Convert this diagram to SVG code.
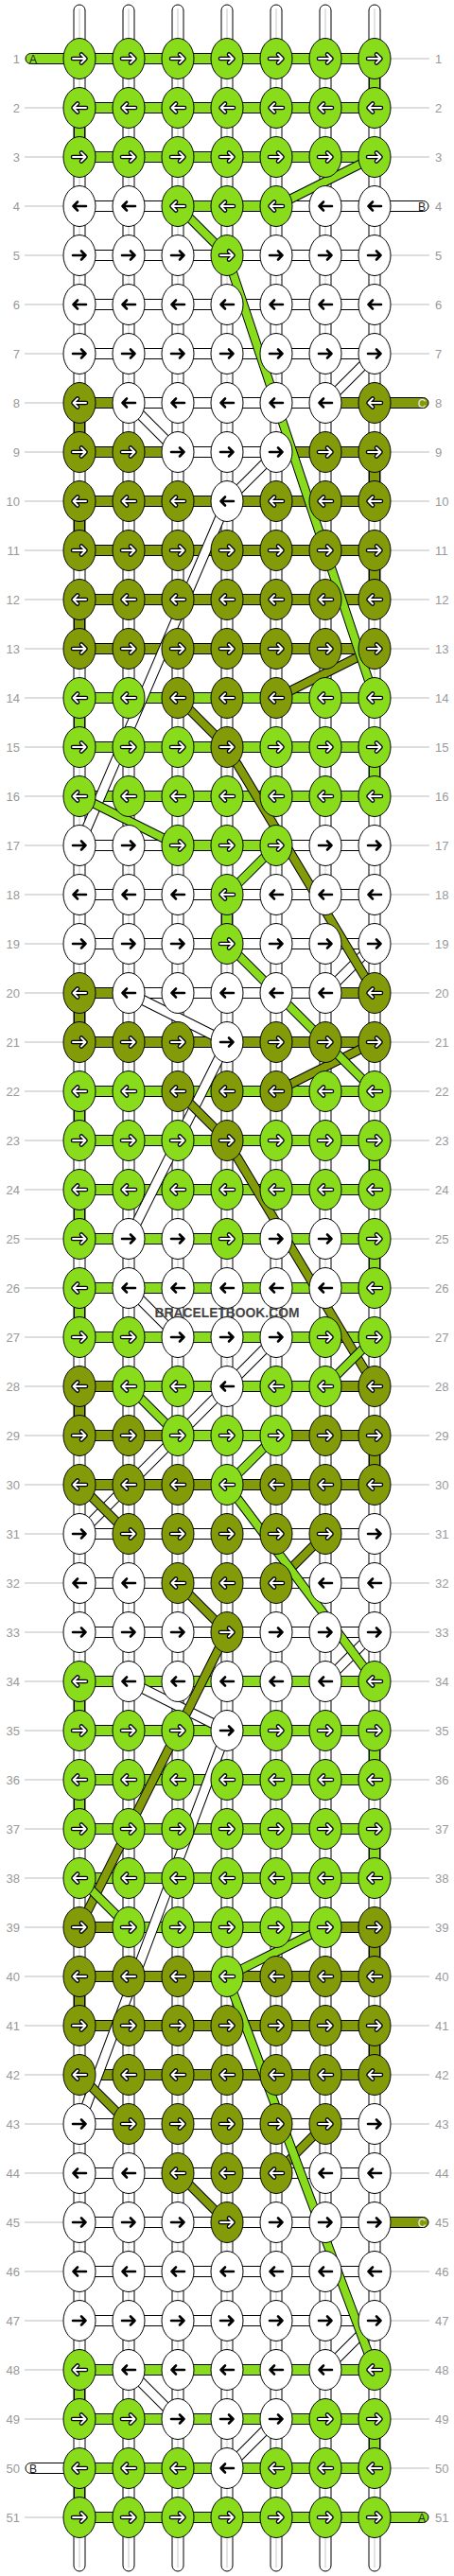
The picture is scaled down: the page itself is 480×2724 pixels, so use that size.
<svg xmlns="http://www.w3.org/2000/svg" xmlns:xlink="http://www.w3.org/1999/xlink" width="480" height="2724" viewBox="0 0 480 2724">
<style>
.G{fill:#88dc1c;stroke:#000;stroke-width:1}
.O{fill:#839a09;stroke:#000;stroke-width:1}
.W{fill:#fff;stroke:#000;stroke-width:1}
.ao{fill:none;stroke:#000;stroke-width:4.6;stroke-linecap:round;stroke-linejoin:round}
.aw{fill:none;stroke:#fff;stroke-width:2;stroke-linecap:round;stroke-linejoin:round}
.ab{fill:none;stroke:#000;stroke-width:2.6;stroke-linecap:round;stroke-linejoin:round}
.bo{fill:none;stroke:#000;stroke-width:10;stroke-linejoin:round}
.bow{fill:none;stroke:#000;stroke-width:11;stroke-linejoin:round}
.bg{fill:none;stroke:#88dc1c;stroke-width:8;stroke-linejoin:round}
.bl{fill:none;stroke:#839a09;stroke-width:8;stroke-linejoin:round}
.bw{fill:none;stroke:#fff;stroke-width:9;stroke-linejoin:round}
.num{font-family:"Liberation Sans",Arial,sans-serif;font-size:13px;fill:#999}
.nl{text-anchor:end}
.lab{font-family:"Liberation Sans",Arial,sans-serif;font-size:12px;text-anchor:middle}
.gl{fill:none;stroke:#bbb;stroke-width:1}
.cl{fill:none;stroke:#c8c8c8;stroke-width:1}
</style>
<defs>
<path id="ar" d="M-7 0H6.5M2-4.5L6.5 0L2 4.5"/>
<path id="al" d="M7 0H-6.5M-2-4.5L-6.5 0L-2 4.5"/>
<g id="GR"><ellipse class="G" rx="17" ry="21.5"/><use href="#ar" class="ao"/><use href="#ar" class="aw"/></g>
<g id="GL"><ellipse class="G" rx="17" ry="21.5"/><use href="#al" class="ao"/><use href="#al" class="aw"/></g>
<g id="OR"><ellipse class="O" rx="17" ry="21.5"/><use href="#ar" class="ao"/><use href="#ar" class="aw"/></g>
<g id="OL"><ellipse class="O" rx="17" ry="21.5"/><use href="#al" class="ao"/><use href="#al" class="aw"/></g>
<g id="WR"><ellipse class="W" rx="17" ry="21.5"/><use href="#ar" class="ab"/></g>
<g id="WL"><ellipse class="W" rx="17" ry="21.5"/><use href="#al" class="ab"/></g>
</defs>
<rect width="480" height="2724" fill="#fff"/>
<g id="labels">
<path class="gl" d="M26 114H67M26 166H67M26 218H67M26 270H67M26 322H67M26 374H67M26 426H67M26 478H67M26 530H67M26 582H67M26 634H67M26 686H67M26 738H67M26 790H67M26 842H67M26 894H67M26 946H67M26 998H67M26 1050H67M26 1102H67M26 1154H67M26 1206H67M26 1258H67M26 1310H67M26 1362H67M26 1414H67M26 1466H67M26 1518H67M26 1570H67M26 1622H67M26 1674H67M26 1726H67M26 1778H67M26 1830H67M26 1882H67M26 1934H67M26 1986H67M26 2038H67M26 2090H67M26 2142H67M26 2194H67M26 2246H67M26 2298H67M26 2350H67M26 2402H67M26 2454H67M26 2506H67M26 2558H67M26 2662H67"/>
<path class="gl" d="M413 62H454M413 114H454M413 166H454M413 270H454M413 322H454M413 374H454M413 478H454M413 530H454M413 582H454M413 634H454M413 686H454M413 738H454M413 790H454M413 842H454M413 894H454M413 946H454M413 998H454M413 1050H454M413 1102H454M413 1154H454M413 1206H454M413 1258H454M413 1310H454M413 1362H454M413 1414H454M413 1466H454M413 1518H454M413 1570H454M413 1622H454M413 1674H454M413 1726H454M413 1778H454M413 1830H454M413 1882H454M413 1934H454M413 1986H454M413 2038H454M413 2090H454M413 2142H454M413 2194H454M413 2246H454M413 2298H454M413 2402H454M413 2454H454M413 2506H454M413 2558H454M413 2610H454"/>
<g class="num nl">
<text x="21" y="67">1</text><text x="21" y="119">2</text><text x="21" y="171">3</text><text x="21" y="223">4</text><text x="21" y="275">5</text><text x="21" y="327">6</text><text x="21" y="379">7</text><text x="21" y="431">8</text><text x="21" y="483">9</text><text x="21" y="535">10</text><text x="21" y="587">11</text><text x="21" y="639">12</text><text x="21" y="691">13</text><text x="21" y="743">14</text><text x="21" y="795">15</text><text x="21" y="847">16</text><text x="21" y="899">17</text><text x="21" y="951">18</text><text x="21" y="1003">19</text><text x="21" y="1055">20</text><text x="21" y="1107">21</text><text x="21" y="1159">22</text><text x="21" y="1211">23</text><text x="21" y="1263">24</text><text x="21" y="1315">25</text><text x="21" y="1367">26</text><text x="21" y="1419">27</text><text x="21" y="1471">28</text><text x="21" y="1523">29</text><text x="21" y="1575">30</text><text x="21" y="1627">31</text><text x="21" y="1679">32</text><text x="21" y="1731">33</text><text x="21" y="1783">34</text><text x="21" y="1835">35</text><text x="21" y="1887">36</text><text x="21" y="1939">37</text><text x="21" y="1991">38</text><text x="21" y="2043">39</text><text x="21" y="2095">40</text><text x="21" y="2147">41</text><text x="21" y="2199">42</text><text x="21" y="2251">43</text><text x="21" y="2303">44</text><text x="21" y="2355">45</text><text x="21" y="2407">46</text><text x="21" y="2459">47</text><text x="21" y="2511">48</text><text x="21" y="2563">49</text><text x="21" y="2615">50</text><text x="21" y="2667">51</text>
</g>
<g class="num">
<text x="460" y="67">1</text><text x="460" y="119">2</text><text x="460" y="171">3</text><text x="460" y="223">4</text><text x="460" y="275">5</text><text x="460" y="327">6</text><text x="460" y="379">7</text><text x="460" y="431">8</text><text x="460" y="483">9</text><text x="460" y="535">10</text><text x="460" y="587">11</text><text x="460" y="639">12</text><text x="460" y="691">13</text><text x="460" y="743">14</text><text x="460" y="795">15</text><text x="460" y="847">16</text><text x="460" y="899">17</text><text x="460" y="951">18</text><text x="460" y="1003">19</text><text x="460" y="1055">20</text><text x="460" y="1107">21</text><text x="460" y="1159">22</text><text x="460" y="1211">23</text><text x="460" y="1263">24</text><text x="460" y="1315">25</text><text x="460" y="1367">26</text><text x="460" y="1419">27</text><text x="460" y="1471">28</text><text x="460" y="1523">29</text><text x="460" y="1575">30</text><text x="460" y="1627">31</text><text x="460" y="1679">32</text><text x="460" y="1731">33</text><text x="460" y="1783">34</text><text x="460" y="1835">35</text><text x="460" y="1887">36</text><text x="460" y="1939">37</text><text x="460" y="1991">38</text><text x="460" y="2043">39</text><text x="460" y="2095">40</text><text x="460" y="2147">41</text><text x="460" y="2199">42</text><text x="460" y="2251">43</text><text x="460" y="2303">44</text><text x="460" y="2355">45</text><text x="460" y="2407">46</text><text x="460" y="2459">47</text><text x="460" y="2511">48</text><text x="460" y="2563">49</text><text x="460" y="2615">50</text><text x="460" y="2667">51</text>
</g>
</g>
<g id="connectors">
<g id="strings">
<rect class="W" x="78" y="5" width="12" height="2714" rx="6"/><rect class="W" x="130" y="5" width="12" height="2714" rx="6"/><rect class="W" x="182" y="5" width="12" height="2714" rx="6"/><rect class="W" x="234" y="5" width="12" height="2714" rx="6"/><rect class="W" x="286" y="5" width="12" height="2714" rx="6"/><rect class="W" x="338" y="5" width="12" height="2714" rx="6"/><rect class="W" x="390" y="5" width="12" height="2714" rx="6"/>
<path class="cl" d="M84 9V2715M136 9V2715M188 9V2715M240 9V2715M292 9V2715M344 9V2715M396 9V2715"/>
</g>
<g id="ends">
<rect class="G" x="27" y="56.5" width="60" height="11" rx="5.5"/>
<rect class="W" x="393" y="212.5" width="60" height="11" rx="5.5"/>
<rect class="O" x="393" y="420.5" width="60" height="11" rx="5.5"/>
<rect class="O" x="393" y="2344.5" width="60" height="11" rx="5.5"/>
<rect class="W" x="27" y="2604.5" width="60" height="11" rx="5.5"/>
<rect class="G" x="393" y="2656.5" width="60" height="11" rx="5.5"/>
</g>
<g id="vconn">
<rect class="G" x="390.5" y="74" width="11" height="28"/><rect class="G" x="78.5" y="126" width="11" height="28"/>
<rect class="O" x="78.5" y="438" width="11" height="28"/><rect class="O" x="390.5" y="490" width="11" height="28"/><rect class="O" x="78.5" y="542" width="11" height="28"/><rect class="O" x="390.5" y="594" width="11" height="28"/><rect class="O" x="78.5" y="646" width="11" height="28"/>
<rect class="G" x="78.5" y="750" width="11" height="28"/><rect class="G" x="390.5" y="802" width="11" height="28"/>
<rect class="G" x="234.5" y="958" width="11" height="28"/>
<rect class="O" x="78.5" y="1062" width="11" height="28"/>
<rect class="G" x="78.5" y="1166" width="11" height="28"/><rect class="G" x="390.5" y="1218" width="11" height="28"/><rect class="G" x="78.5" y="1270" width="11" height="28"/><rect class="G" x="390.5" y="1322" width="11" height="28"/><rect class="G" x="78.5" y="1374" width="11" height="28"/>
<rect class="O" x="78.5" y="1478" width="11" height="28"/><rect class="O" x="390.5" y="1530" width="11" height="28"/>
<rect class="G" x="78.5" y="1790" width="11" height="28"/><rect class="G" x="390.5" y="1842" width="11" height="28"/><rect class="G" x="78.5" y="1894" width="11" height="28"/><rect class="G" x="390.5" y="1946" width="11" height="28"/>
<rect class="O" x="390.5" y="2050" width="11" height="28"/><rect class="O" x="78.5" y="2102" width="11" height="28"/><rect class="O" x="390.5" y="2154" width="11" height="28"/>
<rect class="G" x="78.5" y="2518" width="11" height="28"/><rect class="G" x="390.5" y="2570" width="11" height="28"/><rect class="G" x="78.5" y="2622" width="11" height="28"/>
</g>
<g id="hconn">
<rect class="G" x="84" y="56.5" width="312" height="11"/>
<rect class="G" x="84" y="108.5" width="312" height="11"/>
<rect class="G" x="84" y="160.5" width="312" height="11"/>
<rect class="W" x="84" y="212.5" width="104" height="11"/><rect class="G" x="188" y="212.5" width="104" height="11"/><rect class="W" x="292" y="212.5" width="104" height="11"/>
<rect class="W" x="84" y="264.5" width="312" height="11"/>
<rect class="W" x="84" y="316.5" width="312" height="11"/>
<rect class="W" x="84" y="368.5" width="312" height="11"/>
<rect class="O" x="84" y="420.5" width="52" height="11"/><rect class="W" x="136" y="420.5" width="208" height="11"/><rect class="O" x="344" y="420.5" width="52" height="11"/>
<rect class="O" x="84" y="472.5" width="104" height="11"/><rect class="W" x="188" y="472.5" width="104" height="11"/><rect class="O" x="292" y="472.5" width="104" height="11"/>
<rect class="O" x="84" y="524.5" width="312" height="11"/>
<rect class="O" x="84" y="576.5" width="312" height="11"/>
<rect class="O" x="84" y="628.5" width="312" height="11"/>
<rect class="O" x="84" y="680.5" width="312" height="11"/>
<rect class="G" x="84" y="732.5" width="312" height="11"/>
<rect class="G" x="84" y="784.5" width="312" height="11"/>
<rect class="G" x="84" y="836.5" width="312" height="11"/>
<rect class="W" x="84" y="888.5" width="104" height="11"/><rect class="G" x="188" y="888.5" width="104" height="11"/><rect class="W" x="292" y="888.5" width="104" height="11"/>
<rect class="W" x="84" y="940.5" width="312" height="11"/>
<rect class="W" x="84" y="992.5" width="312" height="11"/>
<rect class="O" x="84" y="1044.5" width="52" height="11"/><rect class="W" x="136" y="1044.5" width="208" height="11"/><rect class="O" x="344" y="1044.5" width="52" height="11"/>
<rect class="O" x="84" y="1096.5" width="312" height="11"/>
<rect class="G" x="84" y="1148.5" width="312" height="11"/>
<rect class="G" x="84" y="1200.5" width="312" height="11"/>
<rect class="G" x="84" y="1252.5" width="312" height="11"/>
<rect class="G" x="84" y="1304.5" width="312" height="11"/>
<rect class="G" x="84" y="1356.5" width="312" height="11"/>
<rect class="G" x="84" y="1408.5" width="312" height="11"/>
<rect class="O" x="84" y="1460.5" width="52" height="11"/><rect class="G" x="136" y="1460.5" width="208" height="11"/><rect class="O" x="344" y="1460.5" width="52" height="11"/>
<rect class="O" x="84" y="1512.5" width="104" height="11"/><rect class="G" x="188" y="1512.5" width="104" height="11"/><rect class="O" x="292" y="1512.5" width="104" height="11"/>
<rect class="O" x="84" y="1564.5" width="312" height="11"/>
<rect class="W" x="84" y="1616.5" width="312" height="11"/>
<rect class="W" x="84" y="1668.5" width="312" height="11"/>
<rect class="W" x="84" y="1720.5" width="312" height="11"/>
<rect class="G" x="84" y="1772.5" width="312" height="11"/>
<rect class="G" x="84" y="1824.5" width="312" height="11"/>
<rect class="G" x="84" y="1876.5" width="312" height="11"/>
<rect class="G" x="84" y="1928.5" width="312" height="11"/>
<rect class="G" x="84" y="1980.5" width="312" height="11"/>
<rect class="O" x="84" y="2032.5" width="52" height="11"/><rect class="G" x="136" y="2032.5" width="208" height="11"/><rect class="O" x="344" y="2032.5" width="52" height="11"/>
<rect class="O" x="84" y="2084.5" width="312" height="11"/>
<rect class="O" x="84" y="2136.5" width="312" height="11"/>
<rect class="O" x="84" y="2188.5" width="312" height="11"/>
<rect class="W" x="84" y="2240.5" width="312" height="11"/>
<rect class="W" x="84" y="2292.5" width="312" height="11"/>
<rect class="W" x="84" y="2344.5" width="312" height="11"/>
<rect class="W" x="84" y="2396.5" width="312" height="11"/>
<rect class="W" x="84" y="2448.5" width="312" height="11"/>
<rect class="G" x="84" y="2500.5" width="312" height="11"/>
<rect class="G" x="84" y="2552.5" width="312" height="11"/>
<rect class="G" x="84" y="2604.5" width="312" height="11"/>
<rect class="G" x="84" y="2656.5" width="312" height="11"/>
</g>
<g id="paths-white">
<path class="bow" d="M396 374L344 426M136 426L188 478M292 478L240 530M240 530L84 894M396 998L344 1050M136 1050L188 1076L240 1102M240 1102L136 1310M136 1362L188 1414M292 1414L240 1466M240 1466L84 1622M396 1726L344 1778M136 1778L188 1804L240 1830M240 1830L84 2246M396 2454L344 2506M136 2506L188 2558M292 2558L240 2610"/>
<path class="bw" d="M396 374L344 426M136 426L188 478M292 478L240 530M240 530L84 894M396 998L344 1050M136 1050L188 1076L240 1102M240 1102L136 1310M136 1362L188 1414M292 1414L240 1466M240 1466L84 1622M396 1726L344 1778M136 1778L188 1804L240 1830M240 1830L84 2246M396 2454L344 2506M136 2506L188 2558M292 2558L240 2610"/>
</g>
<g id="paths-olive">
<path class="bo" d="M396 686L344 712L292 738M188 738L240 790M240 790L396 1050M396 1102L344 1128L292 1154M188 1154L240 1206M240 1206L396 1466M84 1570L136 1622M344 1622L292 1674M188 1674L240 1726M240 1726L84 2038M84 2194L136 2246M344 2246L292 2298M188 2298L240 2350"/>
<path class="bl" d="M396 686L344 712L292 738M188 738L240 790M240 790L396 1050M396 1102L344 1128L292 1154M188 1154L240 1206M240 1206L396 1466M84 1570L136 1622M344 1622L292 1674M188 1674L240 1726M240 1726L84 2038M84 2194L136 2246M344 2246L292 2298M188 2298L240 2350"/>
</g>
<g id="paths-green">
<path class="bo" d="M396 166L344 192L292 218M188 218L240 270M240 270L396 738M84 842L136 868L188 894M292 894L240 946M240 998L396 1154M396 1414L344 1466M136 1466L188 1518M292 1518L240 1570M240 1570L396 1778M84 1986L136 2038M344 2038L292 2064L240 2090M240 2090L396 2506"/>
<path class="bg" d="M396 166L344 192L292 218M188 218L240 270M240 270L396 738M84 842L136 868L188 894M292 894L240 946M240 998L396 1154M396 1414L344 1466M136 1466L188 1518M292 1518L240 1570M240 1570L396 1778M84 1986L136 2038M344 2038L292 2064L240 2090M240 2090L396 2506"/>
</g>
</g>
<g id="nodes">
<g id="n1-1"><use href="#GR" x="84" y="62"/></g><g id="n1-2"><use href="#GR" x="136" y="62"/></g><g id="n1-3"><use href="#GR" x="188" y="62"/></g><g id="n1-4"><use href="#GR" x="240" y="62"/></g><g id="n1-5"><use href="#GR" x="292" y="62"/></g><g id="n1-6"><use href="#GR" x="344" y="62"/></g><g id="n1-7"><use href="#GR" x="396" y="62"/></g>
<g id="n2-1"><use href="#GL" x="84" y="114"/></g><g id="n2-2"><use href="#GL" x="136" y="114"/></g><g id="n2-3"><use href="#GL" x="188" y="114"/></g><g id="n2-4"><use href="#GL" x="240" y="114"/></g><g id="n2-5"><use href="#GL" x="292" y="114"/></g><g id="n2-6"><use href="#GL" x="344" y="114"/></g><g id="n2-7"><use href="#GL" x="396" y="114"/></g>
<g id="n3-1"><use href="#GR" x="84" y="166"/></g><g id="n3-2"><use href="#GR" x="136" y="166"/></g><g id="n3-3"><use href="#GR" x="188" y="166"/></g><g id="n3-4"><use href="#GR" x="240" y="166"/></g><g id="n3-5"><use href="#GR" x="292" y="166"/></g><g id="n3-6"><use href="#GR" x="344" y="166"/></g><g id="n3-7"><use href="#GR" x="396" y="166"/></g>
<g id="n4-1"><use href="#WL" x="84" y="218"/></g><g id="n4-2"><use href="#WL" x="136" y="218"/></g><g id="n4-3"><use href="#GL" x="188" y="218"/></g><g id="n4-4"><use href="#GL" x="240" y="218"/></g><g id="n4-5"><use href="#GL" x="292" y="218"/></g><g id="n4-6"><use href="#WL" x="344" y="218"/></g><g id="n4-7"><use href="#WL" x="396" y="218"/></g>
<g id="n5-1"><use href="#WR" x="84" y="270"/></g><g id="n5-2"><use href="#WR" x="136" y="270"/></g><g id="n5-3"><use href="#WR" x="188" y="270"/></g><g id="n5-4"><use href="#GR" x="240" y="270"/></g><g id="n5-5"><use href="#WR" x="292" y="270"/></g><g id="n5-6"><use href="#WR" x="344" y="270"/></g><g id="n5-7"><use href="#WR" x="396" y="270"/></g>
<g id="n6-1"><use href="#WL" x="84" y="322"/></g><g id="n6-2"><use href="#WL" x="136" y="322"/></g><g id="n6-3"><use href="#WL" x="188" y="322"/></g><g id="n6-4"><use href="#WL" x="240" y="322"/></g><g id="n6-5"><use href="#WL" x="292" y="322"/></g><g id="n6-6"><use href="#WL" x="344" y="322"/></g><g id="n6-7"><use href="#WL" x="396" y="322"/></g>
<g id="n7-1"><use href="#WR" x="84" y="374"/></g><g id="n7-2"><use href="#WR" x="136" y="374"/></g><g id="n7-3"><use href="#WR" x="188" y="374"/></g><g id="n7-4"><use href="#WR" x="240" y="374"/></g><g id="n7-5"><use href="#WR" x="292" y="374"/></g><g id="n7-6"><use href="#WR" x="344" y="374"/></g><g id="n7-7"><use href="#WR" x="396" y="374"/></g>
<g id="n8-1"><use href="#OL" x="84" y="426"/></g><g id="n8-2"><use href="#WL" x="136" y="426"/></g><g id="n8-3"><use href="#WL" x="188" y="426"/></g><g id="n8-4"><use href="#WL" x="240" y="426"/></g><g id="n8-5"><use href="#WL" x="292" y="426"/></g><g id="n8-6"><use href="#WL" x="344" y="426"/></g><g id="n8-7"><use href="#OL" x="396" y="426"/></g>
<g id="n9-1"><use href="#OR" x="84" y="478"/></g><g id="n9-2"><use href="#OR" x="136" y="478"/></g><g id="n9-3"><use href="#WR" x="188" y="478"/></g><g id="n9-4"><use href="#WR" x="240" y="478"/></g><g id="n9-5"><use href="#WR" x="292" y="478"/></g><g id="n9-6"><use href="#OR" x="344" y="478"/></g><g id="n9-7"><use href="#OR" x="396" y="478"/></g>
<g id="n10-1"><use href="#OL" x="84" y="530"/></g><g id="n10-2"><use href="#OL" x="136" y="530"/></g><g id="n10-3"><use href="#OL" x="188" y="530"/></g><g id="n10-4"><use href="#WL" x="240" y="530"/></g><g id="n10-5"><use href="#OL" x="292" y="530"/></g><g id="n10-6"><use href="#OL" x="344" y="530"/></g><g id="n10-7"><use href="#OL" x="396" y="530"/></g>
<g id="n11-1"><use href="#OR" x="84" y="582"/></g><g id="n11-2"><use href="#OR" x="136" y="582"/></g><g id="n11-3"><use href="#OR" x="188" y="582"/></g><g id="n11-4"><use href="#OR" x="240" y="582"/></g><g id="n11-5"><use href="#OR" x="292" y="582"/></g><g id="n11-6"><use href="#OR" x="344" y="582"/></g><g id="n11-7"><use href="#OR" x="396" y="582"/></g>
<g id="n12-1"><use href="#OL" x="84" y="634"/></g><g id="n12-2"><use href="#OL" x="136" y="634"/></g><g id="n12-3"><use href="#OL" x="188" y="634"/></g><g id="n12-4"><use href="#OL" x="240" y="634"/></g><g id="n12-5"><use href="#OL" x="292" y="634"/></g><g id="n12-6"><use href="#OL" x="344" y="634"/></g><g id="n12-7"><use href="#OL" x="396" y="634"/></g>
<g id="n13-1"><use href="#OR" x="84" y="686"/></g><g id="n13-2"><use href="#OR" x="136" y="686"/></g><g id="n13-3"><use href="#OR" x="188" y="686"/></g><g id="n13-4"><use href="#OR" x="240" y="686"/></g><g id="n13-5"><use href="#OR" x="292" y="686"/></g><g id="n13-6"><use href="#OR" x="344" y="686"/></g><g id="n13-7"><use href="#OR" x="396" y="686"/></g>
<g id="n14-1"><use href="#GL" x="84" y="738"/></g><g id="n14-2"><use href="#GL" x="136" y="738"/></g><g id="n14-3"><use href="#OL" x="188" y="738"/></g><g id="n14-4"><use href="#OL" x="240" y="738"/></g><g id="n14-5"><use href="#OL" x="292" y="738"/></g><g id="n14-6"><use href="#GL" x="344" y="738"/></g><g id="n14-7"><use href="#GL" x="396" y="738"/></g>
<g id="n15-1"><use href="#GR" x="84" y="790"/></g><g id="n15-2"><use href="#GR" x="136" y="790"/></g><g id="n15-3"><use href="#GR" x="188" y="790"/></g><g id="n15-4"><use href="#OR" x="240" y="790"/></g><g id="n15-5"><use href="#GR" x="292" y="790"/></g><g id="n15-6"><use href="#GR" x="344" y="790"/></g><g id="n15-7"><use href="#GR" x="396" y="790"/></g>
<g id="n16-1"><use href="#GL" x="84" y="842"/></g><g id="n16-2"><use href="#GL" x="136" y="842"/></g><g id="n16-3"><use href="#GL" x="188" y="842"/></g><g id="n16-4"><use href="#GL" x="240" y="842"/></g><g id="n16-5"><use href="#GL" x="292" y="842"/></g><g id="n16-6"><use href="#GL" x="344" y="842"/></g><g id="n16-7"><use href="#GL" x="396" y="842"/></g>
<g id="n17-1"><use href="#WR" x="84" y="894"/></g><g id="n17-2"><use href="#WR" x="136" y="894"/></g><g id="n17-3"><use href="#GR" x="188" y="894"/></g><g id="n17-4"><use href="#GR" x="240" y="894"/></g><g id="n17-5"><use href="#GR" x="292" y="894"/></g><g id="n17-6"><use href="#WR" x="344" y="894"/></g><g id="n17-7"><use href="#WR" x="396" y="894"/></g>
<g id="n18-1"><use href="#WL" x="84" y="946"/></g><g id="n18-2"><use href="#WL" x="136" y="946"/></g><g id="n18-3"><use href="#WL" x="188" y="946"/></g><g id="n18-4"><use href="#GL" x="240" y="946"/></g><g id="n18-5"><use href="#WL" x="292" y="946"/></g><g id="n18-6"><use href="#WL" x="344" y="946"/></g><g id="n18-7"><use href="#WL" x="396" y="946"/></g>
<g id="n19-1"><use href="#WR" x="84" y="998"/></g><g id="n19-2"><use href="#WR" x="136" y="998"/></g><g id="n19-3"><use href="#WR" x="188" y="998"/></g><g id="n19-4"><use href="#GR" x="240" y="998"/></g><g id="n19-5"><use href="#WR" x="292" y="998"/></g><g id="n19-6"><use href="#WR" x="344" y="998"/></g><g id="n19-7"><use href="#WR" x="396" y="998"/></g>
<g id="n20-1"><use href="#OL" x="84" y="1050"/></g><g id="n20-2"><use href="#WL" x="136" y="1050"/></g><g id="n20-3"><use href="#WL" x="188" y="1050"/></g><g id="n20-4"><use href="#WL" x="240" y="1050"/></g><g id="n20-5"><use href="#WL" x="292" y="1050"/></g><g id="n20-6"><use href="#WL" x="344" y="1050"/></g><g id="n20-7"><use href="#OL" x="396" y="1050"/></g>
<g id="n21-1"><use href="#OR" x="84" y="1102"/></g><g id="n21-2"><use href="#OR" x="136" y="1102"/></g><g id="n21-3"><use href="#OR" x="188" y="1102"/></g><g id="n21-4"><use href="#WR" x="240" y="1102"/></g><g id="n21-5"><use href="#OR" x="292" y="1102"/></g><g id="n21-6"><use href="#OR" x="344" y="1102"/></g><g id="n21-7"><use href="#OR" x="396" y="1102"/></g>
<g id="n22-1"><use href="#GL" x="84" y="1154"/></g><g id="n22-2"><use href="#GL" x="136" y="1154"/></g><g id="n22-3"><use href="#OL" x="188" y="1154"/></g><g id="n22-4"><use href="#OL" x="240" y="1154"/></g><g id="n22-5"><use href="#OL" x="292" y="1154"/></g><g id="n22-6"><use href="#GL" x="344" y="1154"/></g><g id="n22-7"><use href="#GL" x="396" y="1154"/></g>
<g id="n23-1"><use href="#GR" x="84" y="1206"/></g><g id="n23-2"><use href="#GR" x="136" y="1206"/></g><g id="n23-3"><use href="#GR" x="188" y="1206"/></g><g id="n23-4"><use href="#OR" x="240" y="1206"/></g><g id="n23-5"><use href="#GR" x="292" y="1206"/></g><g id="n23-6"><use href="#GR" x="344" y="1206"/></g><g id="n23-7"><use href="#GR" x="396" y="1206"/></g>
<g id="n24-1"><use href="#GL" x="84" y="1258"/></g><g id="n24-2"><use href="#GL" x="136" y="1258"/></g><g id="n24-3"><use href="#GL" x="188" y="1258"/></g><g id="n24-4"><use href="#GL" x="240" y="1258"/></g><g id="n24-5"><use href="#GL" x="292" y="1258"/></g><g id="n24-6"><use href="#GL" x="344" y="1258"/></g><g id="n24-7"><use href="#GL" x="396" y="1258"/></g>
<g id="n25-1"><use href="#GR" x="84" y="1310"/></g><g id="n25-2"><use href="#WR" x="136" y="1310"/></g><g id="n25-3"><use href="#WR" x="188" y="1310"/></g><g id="n25-4"><use href="#GR" x="240" y="1310"/></g><g id="n25-5"><use href="#WR" x="292" y="1310"/></g><g id="n25-6"><use href="#WR" x="344" y="1310"/></g><g id="n25-7"><use href="#GR" x="396" y="1310"/></g>
<g id="n26-1"><use href="#GL" x="84" y="1362"/></g><g id="n26-2"><use href="#WL" x="136" y="1362"/></g><g id="n26-3"><use href="#WL" x="188" y="1362"/></g><g id="n26-4"><use href="#WL" x="240" y="1362"/></g><g id="n26-5"><use href="#WL" x="292" y="1362"/></g><g id="n26-6"><use href="#WL" x="344" y="1362"/></g><g id="n26-7"><use href="#GL" x="396" y="1362"/></g>
<g id="n27-1"><use href="#GR" x="84" y="1414"/></g><g id="n27-2"><use href="#GR" x="136" y="1414"/></g><g id="n27-3"><use href="#WR" x="188" y="1414"/></g><g id="n27-4"><use href="#WR" x="240" y="1414"/></g><g id="n27-5"><use href="#WR" x="292" y="1414"/></g><g id="n27-6"><use href="#GR" x="344" y="1414"/></g><g id="n27-7"><use href="#GR" x="396" y="1414"/></g>
<g id="n28-1"><use href="#OL" x="84" y="1466"/></g><g id="n28-2"><use href="#GL" x="136" y="1466"/></g><g id="n28-3"><use href="#GL" x="188" y="1466"/></g><g id="n28-4"><use href="#WL" x="240" y="1466"/></g><g id="n28-5"><use href="#GL" x="292" y="1466"/></g><g id="n28-6"><use href="#GL" x="344" y="1466"/></g><g id="n28-7"><use href="#OL" x="396" y="1466"/></g>
<g id="n29-1"><use href="#OR" x="84" y="1518"/></g><g id="n29-2"><use href="#OR" x="136" y="1518"/></g><g id="n29-3"><use href="#GR" x="188" y="1518"/></g><g id="n29-4"><use href="#GR" x="240" y="1518"/></g><g id="n29-5"><use href="#GR" x="292" y="1518"/></g><g id="n29-6"><use href="#OR" x="344" y="1518"/></g><g id="n29-7"><use href="#OR" x="396" y="1518"/></g>
<g id="n30-1"><use href="#OL" x="84" y="1570"/></g><g id="n30-2"><use href="#OL" x="136" y="1570"/></g><g id="n30-3"><use href="#OL" x="188" y="1570"/></g><g id="n30-4"><use href="#GL" x="240" y="1570"/></g><g id="n30-5"><use href="#OL" x="292" y="1570"/></g><g id="n30-6"><use href="#OL" x="344" y="1570"/></g><g id="n30-7"><use href="#OL" x="396" y="1570"/></g>
<g id="n31-1"><use href="#WR" x="84" y="1622"/></g><g id="n31-2"><use href="#OR" x="136" y="1622"/></g><g id="n31-3"><use href="#OR" x="188" y="1622"/></g><g id="n31-4"><use href="#OR" x="240" y="1622"/></g><g id="n31-5"><use href="#OR" x="292" y="1622"/></g><g id="n31-6"><use href="#OR" x="344" y="1622"/></g><g id="n31-7"><use href="#WR" x="396" y="1622"/></g>
<g id="n32-1"><use href="#WL" x="84" y="1674"/></g><g id="n32-2"><use href="#WL" x="136" y="1674"/></g><g id="n32-3"><use href="#OL" x="188" y="1674"/></g><g id="n32-4"><use href="#OL" x="240" y="1674"/></g><g id="n32-5"><use href="#OL" x="292" y="1674"/></g><g id="n32-6"><use href="#WL" x="344" y="1674"/></g><g id="n32-7"><use href="#WL" x="396" y="1674"/></g>
<g id="n33-1"><use href="#WR" x="84" y="1726"/></g><g id="n33-2"><use href="#WR" x="136" y="1726"/></g><g id="n33-3"><use href="#WR" x="188" y="1726"/></g><g id="n33-4"><use href="#OR" x="240" y="1726"/></g><g id="n33-5"><use href="#WR" x="292" y="1726"/></g><g id="n33-6"><use href="#WR" x="344" y="1726"/></g><g id="n33-7"><use href="#WR" x="396" y="1726"/></g>
<g id="n34-1"><use href="#GL" x="84" y="1778"/></g><g id="n34-2"><use href="#WL" x="136" y="1778"/></g><g id="n34-3"><use href="#WL" x="188" y="1778"/></g><g id="n34-4"><use href="#WL" x="240" y="1778"/></g><g id="n34-5"><use href="#WL" x="292" y="1778"/></g><g id="n34-6"><use href="#WL" x="344" y="1778"/></g><g id="n34-7"><use href="#GL" x="396" y="1778"/></g>
<g id="n35-1"><use href="#GR" x="84" y="1830"/></g><g id="n35-2"><use href="#GR" x="136" y="1830"/></g><g id="n35-3"><use href="#GR" x="188" y="1830"/></g><g id="n35-4"><use href="#WR" x="240" y="1830"/></g><g id="n35-5"><use href="#GR" x="292" y="1830"/></g><g id="n35-6"><use href="#GR" x="344" y="1830"/></g><g id="n35-7"><use href="#GR" x="396" y="1830"/></g>
<g id="n36-1"><use href="#GL" x="84" y="1882"/></g><g id="n36-2"><use href="#GL" x="136" y="1882"/></g><g id="n36-3"><use href="#GL" x="188" y="1882"/></g><g id="n36-4"><use href="#GL" x="240" y="1882"/></g><g id="n36-5"><use href="#GL" x="292" y="1882"/></g><g id="n36-6"><use href="#GL" x="344" y="1882"/></g><g id="n36-7"><use href="#GL" x="396" y="1882"/></g>
<g id="n37-1"><use href="#GR" x="84" y="1934"/></g><g id="n37-2"><use href="#GR" x="136" y="1934"/></g><g id="n37-3"><use href="#GR" x="188" y="1934"/></g><g id="n37-4"><use href="#GR" x="240" y="1934"/></g><g id="n37-5"><use href="#GR" x="292" y="1934"/></g><g id="n37-6"><use href="#GR" x="344" y="1934"/></g><g id="n37-7"><use href="#GR" x="396" y="1934"/></g>
<g id="n38-1"><use href="#GL" x="84" y="1986"/></g><g id="n38-2"><use href="#GL" x="136" y="1986"/></g><g id="n38-3"><use href="#GL" x="188" y="1986"/></g><g id="n38-4"><use href="#GL" x="240" y="1986"/></g><g id="n38-5"><use href="#GL" x="292" y="1986"/></g><g id="n38-6"><use href="#GL" x="344" y="1986"/></g><g id="n38-7"><use href="#GL" x="396" y="1986"/></g>
<g id="n39-1"><use href="#OR" x="84" y="2038"/></g><g id="n39-2"><use href="#GR" x="136" y="2038"/></g><g id="n39-3"><use href="#GR" x="188" y="2038"/></g><g id="n39-4"><use href="#GR" x="240" y="2038"/></g><g id="n39-5"><use href="#GR" x="292" y="2038"/></g><g id="n39-6"><use href="#GR" x="344" y="2038"/></g><g id="n39-7"><use href="#OR" x="396" y="2038"/></g>
<g id="n40-1"><use href="#OL" x="84" y="2090"/></g><g id="n40-2"><use href="#OL" x="136" y="2090"/></g><g id="n40-3"><use href="#OL" x="188" y="2090"/></g><g id="n40-4"><use href="#GL" x="240" y="2090"/></g><g id="n40-5"><use href="#OL" x="292" y="2090"/></g><g id="n40-6"><use href="#OL" x="344" y="2090"/></g><g id="n40-7"><use href="#OL" x="396" y="2090"/></g>
<g id="n41-1"><use href="#OR" x="84" y="2142"/></g><g id="n41-2"><use href="#OR" x="136" y="2142"/></g><g id="n41-3"><use href="#OR" x="188" y="2142"/></g><g id="n41-4"><use href="#OR" x="240" y="2142"/></g><g id="n41-5"><use href="#OR" x="292" y="2142"/></g><g id="n41-6"><use href="#OR" x="344" y="2142"/></g><g id="n41-7"><use href="#OR" x="396" y="2142"/></g>
<g id="n42-1"><use href="#OL" x="84" y="2194"/></g><g id="n42-2"><use href="#OL" x="136" y="2194"/></g><g id="n42-3"><use href="#OL" x="188" y="2194"/></g><g id="n42-4"><use href="#OL" x="240" y="2194"/></g><g id="n42-5"><use href="#OL" x="292" y="2194"/></g><g id="n42-6"><use href="#OL" x="344" y="2194"/></g><g id="n42-7"><use href="#OL" x="396" y="2194"/></g>
<g id="n43-1"><use href="#WR" x="84" y="2246"/></g><g id="n43-2"><use href="#OR" x="136" y="2246"/></g><g id="n43-3"><use href="#OR" x="188" y="2246"/></g><g id="n43-4"><use href="#OR" x="240" y="2246"/></g><g id="n43-5"><use href="#OR" x="292" y="2246"/></g><g id="n43-6"><use href="#OR" x="344" y="2246"/></g><g id="n43-7"><use href="#WR" x="396" y="2246"/></g>
<g id="n44-1"><use href="#WL" x="84" y="2298"/></g><g id="n44-2"><use href="#WL" x="136" y="2298"/></g><g id="n44-3"><use href="#OL" x="188" y="2298"/></g><g id="n44-4"><use href="#OL" x="240" y="2298"/></g><g id="n44-5"><use href="#OL" x="292" y="2298"/></g><g id="n44-6"><use href="#WL" x="344" y="2298"/></g><g id="n44-7"><use href="#WL" x="396" y="2298"/></g>
<g id="n45-1"><use href="#WR" x="84" y="2350"/></g><g id="n45-2"><use href="#WR" x="136" y="2350"/></g><g id="n45-3"><use href="#WR" x="188" y="2350"/></g><g id="n45-4"><use href="#OR" x="240" y="2350"/></g><g id="n45-5"><use href="#WR" x="292" y="2350"/></g><g id="n45-6"><use href="#WR" x="344" y="2350"/></g><g id="n45-7"><use href="#WR" x="396" y="2350"/></g>
<g id="n46-1"><use href="#WL" x="84" y="2402"/></g><g id="n46-2"><use href="#WL" x="136" y="2402"/></g><g id="n46-3"><use href="#WL" x="188" y="2402"/></g><g id="n46-4"><use href="#WL" x="240" y="2402"/></g><g id="n46-5"><use href="#WL" x="292" y="2402"/></g><g id="n46-6"><use href="#WL" x="344" y="2402"/></g><g id="n46-7"><use href="#WL" x="396" y="2402"/></g>
<g id="n47-1"><use href="#WR" x="84" y="2454"/></g><g id="n47-2"><use href="#WR" x="136" y="2454"/></g><g id="n47-3"><use href="#WR" x="188" y="2454"/></g><g id="n47-4"><use href="#WR" x="240" y="2454"/></g><g id="n47-5"><use href="#WR" x="292" y="2454"/></g><g id="n47-6"><use href="#WR" x="344" y="2454"/></g><g id="n47-7"><use href="#WR" x="396" y="2454"/></g>
<g id="n48-1"><use href="#GL" x="84" y="2506"/></g><g id="n48-2"><use href="#WL" x="136" y="2506"/></g><g id="n48-3"><use href="#WL" x="188" y="2506"/></g><g id="n48-4"><use href="#WL" x="240" y="2506"/></g><g id="n48-5"><use href="#WL" x="292" y="2506"/></g><g id="n48-6"><use href="#WL" x="344" y="2506"/></g><g id="n48-7"><use href="#GL" x="396" y="2506"/></g>
<g id="n49-1"><use href="#GR" x="84" y="2558"/></g><g id="n49-2"><use href="#GR" x="136" y="2558"/></g><g id="n49-3"><use href="#WR" x="188" y="2558"/></g><g id="n49-4"><use href="#WR" x="240" y="2558"/></g><g id="n49-5"><use href="#WR" x="292" y="2558"/></g><g id="n49-6"><use href="#GR" x="344" y="2558"/></g><g id="n49-7"><use href="#GR" x="396" y="2558"/></g>
<g id="n50-1"><use href="#GL" x="84" y="2610"/></g><g id="n50-2"><use href="#GL" x="136" y="2610"/></g><g id="n50-3"><use href="#GL" x="188" y="2610"/></g><g id="n50-4"><use href="#WL" x="240" y="2610"/></g><g id="n50-5"><use href="#GL" x="292" y="2610"/></g><g id="n50-6"><use href="#GL" x="344" y="2610"/></g><g id="n50-7"><use href="#GL" x="396" y="2610"/></g>
<g id="n51-1"><use href="#GR" x="84" y="2662"/></g><g id="n51-2"><use href="#GR" x="136" y="2662"/></g><g id="n51-3"><use href="#GR" x="188" y="2662"/></g><g id="n51-4"><use href="#GR" x="240" y="2662"/></g><g id="n51-5"><use href="#GR" x="292" y="2662"/></g><g id="n51-6"><use href="#GR" x="344" y="2662"/></g><g id="n51-7"><use href="#GR" x="396" y="2662"/></g>
</g>
<g id="end-labels" class="lab">
<text x="35" y="66.5" fill="#222">A</text>
<text x="446" y="222.5" fill="#222">B</text>
<text x="446" y="430.5" fill="#eee">C</text>
<text x="446" y="2354.5" fill="#eee">C</text>
<text x="35" y="2614.5" fill="#222">B</text>
<text x="446" y="2666.5" fill="#222">A</text>
</g>
<text x="240" y="1393" text-anchor="middle" font-family="Liberation Sans, Arial, sans-serif" font-weight="bold" font-size="15" fill="#444" textLength="153" lengthAdjust="spacingAndGlyphs">BRACELETBOOK.COM</text>
</svg>
